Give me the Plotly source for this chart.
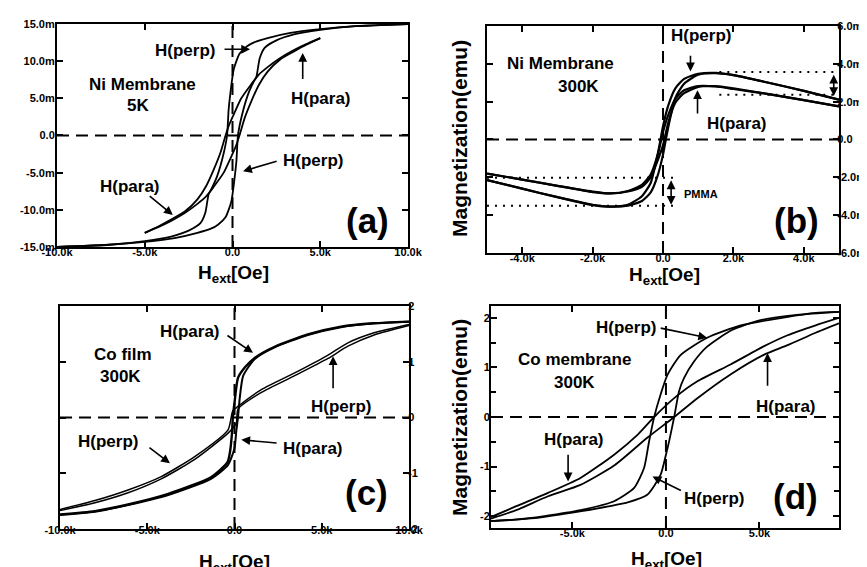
import plotly.graph_objects as go

FONT = "Liberation Sans, Arial, Helvetica, sans-serif"

# ---------------- Panel (a): Ni membrane 5K  (H in kOe, M in memu) ----------------
a_perp_up_h = [-10, -7.1, -5, -3.3, -2, -1.2, -0.83, -0.4, -0.07, 0.12, 0.22, 0.31, 0.5, 0.88, 1.2, 1.36, 1.55, 1.83, 2.5, 3.5, 5, 7, 10]
a_perp_up_m = [-15, -14.7, -14.3, -13.8, -13.1, -12.5, -12.0, -11.0, -8.9, -5.7, -3.5, 0, 2.35, 5.5, 7.2, 7.9, 10.4, 11.8, 12.8, 13.6, 14.2, 14.7, 15]
a_perp_dn_h = [10, 7, 5, 3.3, 2, 1.2, 0.83, 0.4, 0.07, -0.12, -0.22, -0.31, -0.5, -0.88, -1.2, -1.36, -1.55, -1.83, -2.5, -3.5, -5, -7, -10]
a_perp_dn_m = [15, 14.7, 14.3, 13.8, 13.1, 12.5, 12.0, 11.0, 8.9, 5.7, 3.5, 0, -2.35, -5.5, -7.2, -7.9, -10.4, -11.8, -12.8, -13.6, -14.2, -14.7, -15]
a_para_up_h = [-5, -4.2, -3.5, -2.7, -2.0, -1.5, -1.07, -0.5, -0.12, 0.2, 0.41, 0.7, 1.07, 1.5, 2.0, 2.7, 3.5, 4.2, 5]
a_para_up_m = [-13.1, -12.3, -11.5, -10.4, -9.2, -8.2, -6.9, -5.0, -3.1, -1.4, 0.1, 2.4, 4.6, 6.8, 8.6, 10.2, 11.3, 12.2, 13.1]
a_para_dn_h = [5, 4.2, 3.5, 2.7, 2.0, 1.5, 1.07, 0.5, 0.12, -0.2, -0.41, -0.7, -1.07, -1.5, -2.0, -2.7, -3.5, -4.2, -5]
a_para_dn_m = [13.1, 12.3, 11.5, 10.4, 9.2, 8.2, 6.9, 5.0, 3.1, 1.4, -0.1, -2.4, -4.6, -6.8, -8.6, -10.2, -11.3, -12.2, -13.1]

# ---------------- Panel (b): Ni membrane 300K ----------------
b_perp_dn_h = [5, 4, 3, 2, 1.5, 1, 0.6, 0.35, 0.15, 0, -0.1, -0.2, -0.35, -0.6, -1, -1.5, -2, -3, -4, -5]
b_perp_dn_m = [2.1, 2.57, 3.0, 3.4, 3.52, 3.47, 3.2, 2.7, 1.8, 0.7, -0.3, -1.2, -2.3, -3.0, -3.45, -3.55, -3.47, -3.05, -2.6, -2.15]
b_perp_up_h = [-5, -4, -3, -2, -1.5, -1, -0.6, -0.35, -0.15, 0, 0.1, 0.2, 0.35, 0.6, 1, 1.5, 2, 3, 4, 5]
b_perp_up_m = [-2.15, -2.6, -3.05, -3.45, -3.55, -3.5, -3.25, -2.8, -1.9, -0.8, 0.2, 1.1, 2.2, 2.95, 3.42, 3.5, 3.4, 3.0, 2.57, 2.1]
b_para_dn_h = [5, 4, 3, 2, 1.5, 1, 0.6, 0.35, 0.15, 0, -0.15, -0.35, -0.6, -1, -1.5, -2, -3, -4, -5]
b_para_dn_m = [1.75, 2.08, 2.4, 2.67, 2.8, 2.82, 2.6, 2.15, 1.3, 0.4, -0.8, -1.85, -2.4, -2.72, -2.85, -2.78, -2.45, -2.12, -1.8]
b_para_up_h = [-5, -4, -3, -2, -1.5, -1, -0.6, -0.35, -0.15, 0, 0.15, 0.35, 0.6, 1, 1.5, 2, 3, 4, 5]
b_para_up_m = [-1.8, -2.12, -2.45, -2.75, -2.85, -2.75, -2.5, -2.0, -1.1, -0.3, 0.9, 1.95, 2.45, 2.78, 2.82, 2.7, 2.4, 2.08, 1.75]
# guide levels (dotted) and PMMA offsets
b_guide_pos_h = [1.6, 5]
b_guide_pos_m = [3.57, 2.37]
b_guide_neg_h = [-5, 0.43]
b_guide_neg_m = [-2.02, -3.5]

# ---------------- Panel (c): Co film 300K ----------------
c_para_dn_h = [10, 8, 6.1, 4.2, 2.3, 1.16, 0.6, 0.2, 0.01, -0.09, -0.15, -0.25, -0.4, -1.35, -3.8, -6.1, -8, -10]
c_para_dn_m = [1.72, 1.69, 1.63, 1.49, 1.27, 1.07, 0.9, 0.71, 0.29, 0.02, -0.3, -0.6, -0.8, -1.07, -1.37, -1.56, -1.68, -1.74]
c_para_up_h = [-10, -8, -6.1, -3.8, -1.35, -0.37, 0, 0.1, 0.2, 0.3, 0.5, 1.16, 2.3, 4.2, 6.1, 8, 10]
c_para_up_m = [-1.75, -1.69, -1.57, -1.39, -1.1, -0.85, -0.55, -0.25, 0.0, 0.35, 0.75, 1.05, 1.26, 1.48, 1.62, 1.69, 1.72]
c_perp_dn_h = [10, 8, 6.5, 5.36, 3.45, 1.54, 0.2, -0.1, -0.37, -2.28, -4.2, -6.1, -8, -10]
c_perp_dn_m = [1.67, 1.52, 1.34, 1.12, 0.8, 0.5, 0.2, 0.12, -0.22, -0.7, -1.06, -1.3, -1.49, -1.65]
c_perp_up_h = [-10, -8, -6.1, -4.2, -2.28, -0.37, 0.1, 0.2, 1.54, 3.45, 5.36, 6.5, 8, 10]
c_perp_up_m = [-1.67, -1.53, -1.35, -1.1, -0.75, -0.28, -0.1, 0.15, 0.45, 0.75, 1.06, 1.28, 1.48, 1.65]

# ---------------- Panel (d): Co membrane 300K ----------------
d_perp_dn_h = [9.25, 8, 6.2, 4, 2.2, 0.78, 0.08, -0.29, -0.63, -0.9, -1.17, -1.7, -2.77, -4.57, -6.5, -8, -9.35]
d_perp_dn_m = [2.12, 2.1, 2.0, 1.85, 1.6, 1.25, 0.85, 0.45, 0, -0.49, -1.03, -1.43, -1.7, -1.88, -2.0, -2.07, -2.1]
d_perp_up_h = [-9.35, -7, -5, -3, -2, -1, -0.29, 0, 0.17, 0.44, 0.7, 0.97, 1.5, 2.2, 3.5, 5, 7, 9.25]
d_perp_up_m = [-2.1, -2.04, -1.93, -1.8, -1.72, -1.57, -1.17, -0.76, -0.49, 0, 0.52, 0.79, 1.12, 1.42, 1.75, 1.95, 2.06, 2.12]
d_para_dn_h = [9.25, 8, 6.5, 5.25, 3.45, 1.68, 0.44, -0.63, -1.52, -2.77, -4.57, -6.3, -8, -9.35]
d_para_dn_m = [2.0, 1.85, 1.65, 1.43, 1.06, 0.72, 0.38, 0, -0.36, -0.76, -1.23, -1.53, -1.8, -2.02]
d_para_up_h = [-9.35, -8, -6.3, -4.57, -2.77, -1.0, 0.44, 1.68, 3.45, 5.25, 6.5, 8, 9.25]
d_para_up_m = [-2.05, -1.88, -1.6, -1.37, -0.98, -0.42, 0, 0.38, 0.86, 1.26, 1.45, 1.7, 1.89]

# tick labels
a_xt = [-10, -5, 0, 5, 10]
a_xl = ["-10.0k", "-5.0k", "0.0", "5.0k", "10.0k"]
a_yt = [-15, -10, -5, 0, 5, 10, 15]
a_yl = ["-15.0m", "-10.0m", "-5.0m", "0.0", "5.0m", "10.0m", "15.0m"]
b_xt = [-4, -2, 0, 2, 4]
b_xl = ["-4.0k", "-2.0k", "0.0", "2.0k", "4.0k"]
b_yt = [-6, -4, -2, 0, 2, 4, 6]
b_yl = ["-6.0m", "-4.0m", "-2.0m", "0.0", "2.0m", "4.0m", "6.0m"]
c_xt = [-10, -5, 0, 5, 10]
c_xl = ["-10.0k", "-5.0k", "0.0", "5.0k", "10.0k"]
c_yt = [-2, -1, 0, 1, 2]
c_yl = ["-2", "-1", "0", "1", "2"]
d_xt = [-5, 0, 5]
d_xl = ["-5.0k", "0.0", "5.0k"]
d_yt = [-2, -1, 0, 1, 2]
d_yl = ["-2", "-1", "0", "1", "2"]

fig = go.Figure()


def curve(h, m, ax, w=1.8):
    fig.add_trace(go.Scatter(
        x=h, y=m, mode="lines", xaxis="x" + ax, yaxis="y" + ax,
        line=dict(color="black", width=w, shape="spline", smoothing=0.6),
        showlegend=False, hoverinfo="skip"))


curve(a_perp_up_h, a_perp_up_m, "")
curve(a_perp_dn_h, a_perp_dn_m, "")
curve(a_para_up_h, a_para_up_m, "")
curve(a_para_dn_h, a_para_dn_m, "")

curve(b_perp_dn_h, b_perp_dn_m, "2", 2.2)
curve(b_perp_up_h, b_perp_up_m, "2", 2.2)
curve(b_para_dn_h, b_para_dn_m, "2", 2.2)
curve(b_para_up_h, b_para_up_m, "2", 2.2)

curve(c_para_dn_h, c_para_dn_m, "3", 2.4)
curve(c_para_up_h, c_para_up_m, "3", 2.0)
curve(c_perp_dn_h, c_perp_dn_m, "3", 1.5)
curve(c_perp_up_h, c_perp_up_m, "3", 1.5)

curve(d_perp_dn_h, d_perp_dn_m, "4")
curve(d_perp_up_h, d_perp_up_m, "4")
curve(d_para_dn_h, d_para_dn_m, "4")
curve(d_para_up_h, d_para_up_m, "4")

# dotted guide lines in (b)
for lvl in b_guide_pos_m:
    fig.add_trace(go.Scatter(x=b_guide_pos_h, y=[lvl, lvl], mode="lines", xaxis="x2", yaxis="y2",
                             line=dict(color="black", width=2, dash="2px,6px"), showlegend=False, hoverinfo="skip"))
for lvl in b_guide_neg_m:
    fig.add_trace(go.Scatter(x=b_guide_neg_h, y=[lvl, lvl], mode="lines", xaxis="x2", yaxis="y2",
                             line=dict(color="black", width=2, dash="2px,6px"), showlegend=False, hoverinfo="skip"))

# dashed zero lines
shapes = []
for ax in ["", "2", "3", "4"]:
    shapes.append(dict(type="line", xref="x" + ax + " domain", yref="y" + ax, x0=0, x1=1, y0=0, y1=0,
                       line=dict(color="black", width=2, dash="12px,7px")))
    shapes.append(dict(type="line", xref="x" + ax, yref="y" + ax + " domain", x0=0, x1=0, y0=0, y1=1,
                       line=dict(color="black", width=2, dash="12px,7px")))

tf = dict(family=FONT, size=11, color="black", weight="bold")


def axis(dom, anchor, rng, tv, tt, side=None, minor=None, standoff=0):
    d = dict(domain=dom, anchor=anchor, range=rng, tickvals=tv, ticktext=tt, ticks="inside",
             ticklen=6, tickwidth=1.5, tickcolor="black", showline=True, mirror="allticks",
             linewidth=2, linecolor="black", showgrid=False, zeroline=False, tickfont=tf,
             automargin=False, ticklabelstandoff=standoff)
    if side:
        d["side"] = side
    if minor:
        d["minor"] = minor
    return d


layout = dict(
    width=867, height=567, margin=dict(l=0, r=0, t=0, b=0),
    paper_bgcolor="white", plot_bgcolor="white", template="none",
    font=dict(family=FONT, color="black"),
    xaxis=axis([0.0565, 0.4614], "y", [-10, 10], a_xt, a_xl, standoff=-6),
    yaxis=axis([0.5785, 0.9718], "x", [-15, 15], a_yt, a_yl, standoff=-2),
    xaxis2=axis([0.5525, 0.9585], "y2", [-5, 5], b_xt, b_xl, standoff=-6),
    yaxis2=axis([0.5679, 0.9683], "x2", [-6, 6], b_yt, b_yl, side="right", standoff=-6),
    xaxis3=axis([0.0600, 0.4625], "y3", [-10, 10], c_xt, c_xl, standoff=-10),
    yaxis3=axis([0.0811, 0.4744], "x3", [-2, 2], c_yt, c_yl, side="right", standoff=-5),
    xaxis4=axis([0.5571, 0.9585], "y4", [-9.35, 9.25], d_xt, d_xl, standoff=-6),
    yaxis4=axis([0.0829, 0.4744], "x4", [-2.24, 2.24], d_yt, d_yl, standoff=-3,
                minor=dict(ticks="inside", dtick=0.5, ticklen=5, tickwidth=1.5, tickcolor="black")),
    shapes=shapes,
)
fig.update_layout(**layout)

ann = []


def text(ax, x, y, s, size=17, xanchor="center"):
    ann.append(dict(xref="x" + ax, yref="y" + ax, x=x, y=y, text="<b>" + s + "</b>", showarrow=False,
                    font=dict(family=FONT, size=size, color="black"), xanchor=xanchor, yanchor="middle"))


def arrow(ax, hx, hy, tx, ty, both=False):
    ann.append(dict(xref="x" + ax, yref="y" + ax, axref="x" + ax, ayref="y" + ax, x=hx, y=hy, ax=tx, ay=ty,
                    text="", showarrow=True, arrowhead=2, arrowsize=1.1, arrowwidth=1.6, arrowcolor="black",
                    arrowside="end+start" if both else "end", standoff=0, startstandoff=0))


# (a)
text("", -5.1, 6.9, "Ni Membrane")
text("", -5.4, 4.1, "5K")
text("", -2.7, 11.4, "H(perp)")
arrow("", 1.0, 11.6, -0.54, 11.6)
text("", 5.05, 5.0, "H(para)")
arrow("", 4.0, 11.1, 4.0, 7.4)
text("", 4.6, -3.3, "H(perp)")
arrow("", 0.6, -4.8, 2.6, -3.4)
text("", -5.85, -6.8, "H(para)")
arrow("", -3.4, -10.7, -4.8, -8.0)
text("", 7.7, -11.5, "(a)", size=35)

# (b)
text("2", -2.9, 4.0, "Ni Membrane")
text("2", -2.4, 2.8, "300K")
text("2", 1.07, 5.5, "H(perp)")
arrow("2", 0.78, 3.6, 0.78, 4.5)
text("2", 2.1, 0.85, "H(para)")
arrow("2", 0.98, 2.6, 0.98, 1.3)
text("2", 1.07, -2.9, "PMMA", size=11)
arrow("2", 4.85, 2.3, 4.85, 3.5, both=True)
arrow("2", 0.23, -3.45, 0.23, -2.08, both=True)
text("2", 3.8, -4.3, "(b)", size=35)

# (c)
text("3", -6.4, 1.13, "Co film")
text("3", -6.56, 0.74, "300K")
text("3", -2.55, 1.55, "H(para)")
arrow("3", 1.06, 1.16, -0.49, 1.49)
text("3", 6.1, 0.2, "H(perp)")
arrow("3", 5.65, 1.1, 5.65, 0.5)
text("3", -7.25, -0.43, "H(perp)")
arrow("3", -3.7, -0.82, -4.96, -0.52)
text("3", 4.5, -0.55, "H(para)")
arrow("3", 0.39, -0.4, 2.5, -0.46)
text("3", 7.55, -1.35, "(c)", size=35)

# (d)
text("4", -4.9, 1.16, "Co membrane")
text("4", -4.9, 0.69, "300K")
text("4", -2.15, 1.8, "H(perp)")
arrow("4", 2.2, 1.6, -0.36, 1.8)
text("4", 6.4, 0.22, "H(para)")
arrow("4", 5.43, 1.29, 5.43, 0.6)
text("4", -4.9, -0.46, "H(para)")
arrow("4", -5.23, -1.3, -5.23, -0.73)
text("4", 2.58, -1.64, "H(perp)")
arrow("4", -0.72, -1.2, 0.88, -1.5)
text("4", 6.94, -1.6, "(d)", size=35)

# axis titles (paper coordinates)
def ptext(x, y, s, size=19, angle=0):
    ann.append(dict(xref="paper", yref="paper", x=x / 867, y=1 - y / 567, text=s, showarrow=False,
                    textangle=angle, font=dict(family=FONT, size=size, color="black"),
                    xanchor="center", yanchor="middle"))


ptext(226, 266, "<b>H<sub>ext</sub>[Oe]</b>")
ptext(656, 268, "<b>H<sub>ext</sub>[Oe]</b>")
ptext(227, 555, "<b>H<sub>ext</sub>[Oe]</b>")
ptext(658, 552, "<b>H<sub>ext</sub>[Oe]</b>")
ptext(451, 131, "<b>Magnetization(emu)</b>", size=21, angle=-90)
ptext(451, 410, "<b>Magnetization(emu)</b>", size=21, angle=-90)

fig.update_layout(annotations=ann)
fig.write_html("out.html")
